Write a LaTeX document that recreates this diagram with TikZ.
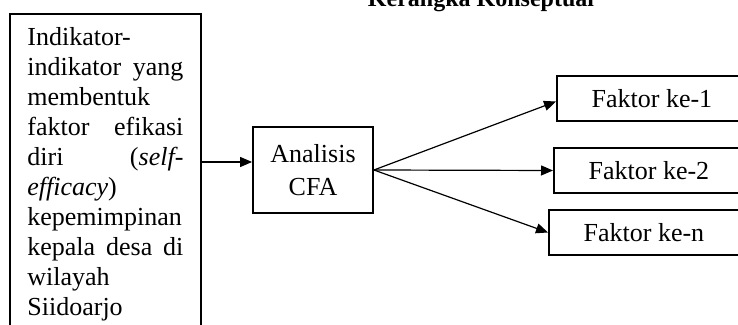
\documentclass[tikz,border=0pt]{standalone}
\usepackage{fontspec}
\setmainfont{Liberation Serif}
\usepackage{tikz}
\usetikzlibrary{arrows.meta, positioning}

\begin{document}
\begin{tikzpicture}[x=0.5pt, y=-0.5pt,
    box/.style={draw, line width=0.9pt, font=\fontsize{13pt}{15pt}\selectfont},
    panah/.style={-{Triangle[length=6pt, width=5pt]}, line width=0.6pt}]
            \path[use as bounding box, clip] (0,0) rectangle (738,325);

            \node (judul) [anchor=base, font=\bfseries\fontsize{12pt}{14pt}\selectfont] at (481,7) {Kerangka Konseptual};

            \node (indikator) [box, anchor=north west, text width=78pt, align=justify, inner xsep=8.75pt, inner ysep=7pt] at (9,13)
                {Indikator-\\
                indikator yang\linebreak
                membentuk\\
                faktor efikasi\linebreak
                diri (\textit{self-}\linebreak
                \textit{efficacy})\\
                kepemimpinan\\
                kepala desa di\linebreak
                wilayah\\
                Siidoarjo};

            \node (analisis_cfa) [box, minimum width=60pt, minimum height=43pt, align=center] at (313,170) {Analisis\\[1.5pt]CFA};

            \node (faktor_1) [box, anchor=west, minimum width=95pt, minimum height=22.5pt] at (556,98.5) {Faktor ke-1};
            \node (faktor_2) [box, anchor=west, minimum width=95pt, minimum height=22.5pt] at (553,170.5) {Faktor ke-2};
            \node (faktor_n) [box, anchor=west, minimum width=95pt, minimum height=22.5pt] at (548,232.5) {Faktor ke-n};

                \draw[panah] ([yshift=4pt]analisis_cfa.west -| indikator.east) -- ([yshift=4pt]analisis_cfa.west);

                \draw[panah] (analisis_cfa.east) -- ([yshift=-1.5pt]faktor_1.west);
                \draw[panah] (analisis_cfa.east) -- (faktor_2.west);
                \draw[panah] (analisis_cfa.east) -- (faktor_n.west);
            \end{tikzpicture}
\end{document}
